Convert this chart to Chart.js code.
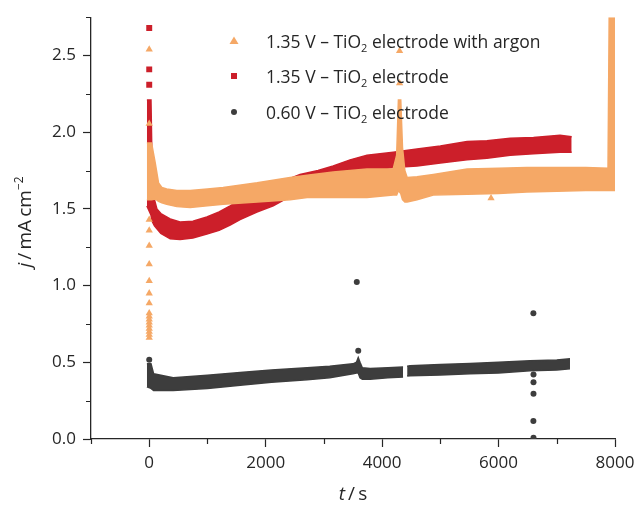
<!DOCTYPE html>
<html><head><meta charset="utf-8">
<script src="https://cdn.jsdelivr.net/npm/chart.js@4.4.1/dist/chart.umd.min.js"></script>
<style>html,body{margin:0;padding:0;background:#fff;}canvas{display:block;}</style>
</head><body>
<canvas id="c" width="641" height="514"></canvas>
<script>
const FONT = '"Open Sans", "DejaVu Sans", sans-serif';
const TEXT = '#262626';
const ORANGE = '#f5a866', RED = '#cc1f2a', GRAY = '#3d3d3d';

// axis tick labels
const xTickLabels = [0, 2000, 4000, 6000, 8000];
const yTickLabels = [0.0, 0.5, 1.0, 1.5, 2.0, 2.5];
const seriesNames = ['1.35 V – TiO|2| electrode with argon', '1.35 V – TiO|2| electrode', '0.60 V – TiO|2| electrode'];

// 1.35 V – TiO2 electrode with argon (band: time, upper, lower edge of the dense trace)
const argonT  = [-40, 40, 103, 160, 217, 300, 475, 704, 1000, 1270, 1854, 2420, 2712, 3160, 3740, 4190, 4250, 4280, 4320, 4350, 4390, 4430, 4600, 4880, 5460, 6000, 6484, 7000, 7500, 7880, 7900, 8000];
const argonHi = [1.93, 1.93, 1.80, 1.67, 1.64, 1.63, 1.62, 1.62, 1.63, 1.64, 1.67, 1.705, 1.72, 1.74, 1.76, 1.76, 1.85, 2.21, 2.21, 1.90, 1.75, 1.705, 1.71, 1.725, 1.76, 1.765, 1.77, 1.77, 1.77, 1.765, 2.745, 2.745];
const argonLo = [1.56, 1.56, 1.565, 1.55, 1.54, 1.53, 1.515, 1.51, 1.52, 1.53, 1.545, 1.56, 1.575, 1.575, 1.575, 1.59, 1.59, 1.62, 1.60, 1.56, 1.545, 1.545, 1.56, 1.59, 1.595, 1.60, 1.61, 1.615, 1.62, 1.62, 1.62, 1.62];
// isolated triangles
const argonPtT = [0, 0, 0, 0, 0, 0, 0, 0, 0, 0, 0, 0, 0, 0, 0, 0, 0, 0, 4300, 4300, 5871];
const argonPtJ = [2.54, 2.056, 1.43, 1.36, 1.26, 1.14, 1.03, 0.95, 0.885, 0.82, 0.80, 0.78, 0.76, 0.74, 0.72, 0.70, 0.68, 0.66, 2.32, 2.53, 1.57];

// 1.35 V – TiO2 electrode
const redT  = [-40, 30, 50, 90, 132, 200, 360, 530, 750, 990, 1200, 1390, 1560, 1850, 2130, 2300, 2590, 2900, 3160, 3450, 3740, 4190, 4600, 5000, 5460, 5800, 6200, 6600, 7056, 7256];
const redHi = [2.21, 2.21, 1.75, 1.56, 1.50, 1.47, 1.435, 1.415, 1.42, 1.447, 1.48, 1.52, 1.56, 1.62, 1.66, 1.68, 1.725, 1.75, 1.78, 1.82, 1.85, 1.87, 1.89, 1.91, 1.94, 1.945, 1.96, 1.965, 1.98, 1.97];
const redLo = [1.52, 1.46, 1.42, 1.39, 1.37, 1.34, 1.305, 1.30, 1.31, 1.337, 1.36, 1.395, 1.43, 1.48, 1.52, 1.556, 1.60, 1.66, 1.70, 1.73, 1.75, 1.77, 1.78, 1.80, 1.82, 1.83, 1.85, 1.86, 1.87, 1.87];
const redPtT = [0, 0, 0];
const redPtJ = [2.68, 2.41, 2.31];

// 0.60 V – TiO2 electrode (two segments, gap near 4400 s)
const grayT1  = [-40, 30, 75, 412, 1000, 1562, 2100, 2712, 3100, 3500, 3560, 3590, 3620, 3660, 3794, 4100, 4360];
const grayHi1 = [0.49, 0.49, 0.425, 0.40, 0.415, 0.433, 0.45, 0.465, 0.475, 0.49, 0.50, 0.53, 0.50, 0.465, 0.46, 0.465, 0.47];
const grayLo1 = [0.34, 0.33, 0.317, 0.317, 0.33, 0.35, 0.37, 0.387, 0.40, 0.425, 0.43, 0.43, 0.40, 0.39, 0.39, 0.40, 0.405];
const grayT2  = [4430, 4480, 5000, 5510, 6000, 6540, 7000, 7227];
const grayHi2 = [0.475, 0.478, 0.485, 0.493, 0.50, 0.51, 0.515, 0.523];
const grayLo2 = [0.41, 0.413, 0.418, 0.425, 0.43, 0.445, 0.45, 0.458];
const grayPtT = [0, 3565, 3590, 6598, 6600, 6600, 6600, 6598, 6600];
const grayPtJ = [0.517, 1.023, 0.575, 0.82, 0.42, 0.37, 0.295, 0.118, 0.008];

const pts = (t, v) => t.map((x, i) => ({x: x, y: v[i]}));
const datasets = [];
function band(t, hi, lo, color, order) {
  datasets.push({data: pts(t, lo), borderColor: color, borderWidth: 1.5, pointRadius: 0, fill: false, order: order, tension: 0});
  datasets.push({data: pts(t, hi), borderColor: color, borderWidth: 1.5, pointRadius: 0, fill: '-1', backgroundColor: color, order: order, tension: 0});
}
function scatter(t, v, color, style, r, order) {
  datasets.push({data: pts(t, v), showLine: false, pointStyle: style, pointRadius: r, pointBorderWidth: 0,
    pointBackgroundColor: color, pointBorderColor: color, borderColor: color, backgroundColor: color, order: order});
}
scatter(argonPtT, argonPtJ, ORANGE, 'triangle', 4.2, 1);
band(argonT, argonHi, argonLo, ORANGE, 2);
scatter(redPtT, redPtJ, RED, 'rect', 4.2, 3);
band(redT, redHi, redLo, RED, 4);
scatter(grayPtT, grayPtJ, GRAY, 'circle', 3, 5);
band(grayT1, grayHi1, grayLo1, GRAY, 6);
band(grayT2, grayHi2, grayLo2, GRAY, 6);

const isXLab = v => xTickLabels.includes(v);
const isYLab = v => yTickLabels.some(l => Math.abs(l - v) < 1e-9);

function richText(ctx, x, y, parts, measureOnly) {
  let w = 0;
  for (const p of parts) {
    ctx.font = p.font;
    if (!measureOnly) ctx.fillText(p.text, x + w, y + (p.dy || 0));
    w += ctx.measureText(p.text).width;
  }
  return w;
}

const overlay = {
  id: 'overlay',
  afterDraw(chart) {
    const ctx = chart.ctx, xs = chart.scales.x, ys = chart.scales.y, a = chart.chartArea;
    ctx.save();
    // minor ticks
    ctx.strokeStyle = TEXT; ctx.lineWidth = 1.2;
    ctx.beginPath();
    xs.ticks.forEach(t => { if (!isXLab(t.value)) { const p = Math.round(xs.getPixelForValue(t.value)) + 0.5; ctx.moveTo(p, a.bottom); ctx.lineTo(p, a.bottom + 5); } });
    ys.ticks.forEach(t => { if (!isYLab(t.value)) { const p = Math.round(ys.getPixelForValue(t.value)) + 0.5; ctx.moveTo(a.left - 5, p); ctx.lineTo(a.left, p); } });
    ctx.stroke();

    ctx.fillStyle = TEXT;
    ctx.textBaseline = 'alphabetic';
    // x title
    const xParts = [{text: 't', font: 'italic 19px ' + FONT}, {text: '\u2009/\u2009s', font: '19px ' + FONT}];
    let w = richText(ctx, 0, 0, xParts, true);
    richText(ctx, (a.left + a.right) / 2 - w / 2, 500, xParts);
    // y title
    const yParts = [{text: 'j', font: 'italic 19px ' + FONT}, {text: '\u2009/\u2009mA\u2009cm', font: '19px ' + FONT}, {text: '\u22122', font: '12px ' + FONT, dy: -8}];
    w = richText(ctx, 0, 0, yParts, true);
    ctx.save();
    ctx.translate(31, 222);
    ctx.rotate(-Math.PI / 2);
    richText(ctx, -w / 2, 0, yParts);
    ctx.restore();

    // legend
    const styles = [['triangle', ORANGE], ['rect', RED], ['circle', GRAY]];
    const rows = [41, 76, 112];
    seriesNames.forEach((name, i) => {
      const [st, col] = styles[i];
      const cx = 234, cy = rows[i];
      ctx.fillStyle = col;
      ctx.beginPath();
      if (st === 'triangle') { ctx.moveTo(cx, cy - 4.5); ctx.lineTo(cx + 4.5, cy + 3); ctx.lineTo(cx - 4.5, cy + 3); ctx.closePath(); }
      else if (st === 'rect') { ctx.rect(cx - 3, cy - 3, 6, 6); }
      else { ctx.arc(cx, cy, 3, 0, Math.PI * 2); }
      ctx.fill();
      ctx.fillStyle = TEXT;
      const seg = name.split('|');
      richText(ctx, 266, cy + 7, [{text: seg[0], font: '17.5px ' + FONT}, {text: seg[1], font: '11px ' + FONT, dy: 4}, {text: seg[2], font: '17.5px ' + FONT}]);
    });
    ctx.restore();
  }
};

new Chart(document.getElementById('c'), {
  type: 'line',
  data: {datasets: datasets},
  plugins: [overlay],
  options: {
    responsive: false, animation: false, devicePixelRatio: 1,
    layout: {padding: {left: 0, right: 26, top: 14, bottom: 0}},
    plugins: {legend: {display: false}, tooltip: {enabled: false}},
    elements: {line: {tension: 0}},
    scales: {
      x: {
        type: 'linear', min: -1000, max: 8000,
        ticks: {stepSize: 1000, autoSkip: false, maxRotation: 0, padding: 6, color: TEXT,
          font: {family: FONT, size: 17}, callback: v => isXLab(v) ? String(v) : ''},
        grid: {drawOnChartArea: false, drawTicks: true, tickLength: 8, tickWidth: 1.2,
          tickColor: c => (c.tick && isXLab(c.tick.value)) ? TEXT : 'rgba(0,0,0,0)'},
        border: {display: true, color: TEXT, width: 1.3},
        afterFit: s => { s.height = 75; }
      },
      y: {
        type: 'linear', min: 0, max: 2.75,
        ticks: {stepSize: 0.25, autoSkip: false, padding: 7, color: TEXT,
          font: {family: FONT, size: 17}, callback: v => isYLab(v) ? v.toFixed(1) : ''},
        grid: {drawOnChartArea: false, drawTicks: true, tickLength: 8, tickWidth: 1.2,
          tickColor: c => (c.tick && isYLab(c.tick.value)) ? TEXT : 'rgba(0,0,0,0)'},
        border: {display: true, color: TEXT, width: 1.3},
        afterFit: s => { s.width = 91; }
      }
    }
  }
});
</script>
</body></html>
